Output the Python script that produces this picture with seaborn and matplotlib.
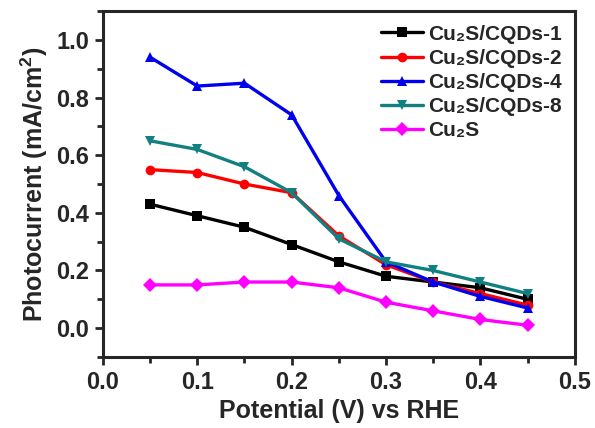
import pandas as pd
import matplotlib.pyplot as plt
import seaborn as sns
from matplotlib.ticker import MultipleLocator

# potential values (V vs RHE)
potential = [0.05, 0.10, 0.15, 0.20, 0.25, 0.30, 0.35, 0.40, 0.45]

# photocurrent (mA/cm2)
cqds_1 = [0.43, 0.39, 0.35, 0.29, 0.23, 0.18, 0.16, 0.14, 0.10]
cqds_2 = [0.55, 0.54, 0.50, 0.47, 0.32, 0.22, 0.16, 0.12, 0.08]
cqds_4 = [0.94, 0.84, 0.85, 0.74, 0.46, 0.23, 0.16, 0.11, 0.07]
cqds_8 = [0.65, 0.62, 0.56, 0.47, 0.31, 0.23, 0.20, 0.16, 0.12]
cu2s = [0.15, 0.15, 0.16, 0.16, 0.14, 0.09, 0.06, 0.03, 0.01]

labels = ["Cu₂S/CQDs-1", "Cu₂S/CQDs-2", "Cu₂S/CQDs-4", "Cu₂S/CQDs-8", "Cu₂S"]
series = [cqds_1, cqds_2, cqds_4, cqds_8, cu2s]
colors = ["black", "red", "#0000ee", "#128080", "#ff00ff"]
marks = ["s", "o", "^", "v", "D"]

rows = []
for lab, vals in zip(labels, series):
    for x, y in zip(potential, vals):
        rows.append({"Potential": x, "Current": y, "Sample": lab})
df = pd.DataFrame(rows)

sns.set_style("ticks")
plt.rcParams['font.family'] = ['Liberation Sans', 'DejaVu Sans']
plt.rcParams['font.weight'] = 'bold'
plt.rcParams['mathtext.fontset'] = 'custom'
plt.rcParams['mathtext.rm'] = 'Liberation Sans:bold'
plt.rcParams['mathtext.bf'] = 'Liberation Sans:bold'

fig = plt.figure(figsize=(5.95, 4.28), dpi=100)
ax = fig.add_axes([0.173, 0.166, 0.793, 0.808])

sns.lineplot(data=df, x="Potential", y="Current", hue="Sample", style="Sample",
             palette=dict(zip(labels, colors)), markers=dict(zip(labels, marks)),
             dashes=False, linewidth=2.4, markersize=7, markeredgewidth=0,
             ax=ax)

ax.set_xlim(0, 0.5)
ax.set_ylim(-0.10, 1.10)
ax.xaxis.set_major_locator(MultipleLocator(0.1))
ax.xaxis.set_minor_locator(MultipleLocator(0.05))
ax.yaxis.set_major_locator(MultipleLocator(0.2))
ax.yaxis.set_minor_locator(MultipleLocator(0.1))
ax.tick_params(which='major', direction='out', length=6, width=2.0, labelsize=17, pad=4)
ax.tick_params(which='minor', direction='out', length=4, width=2.0)
for s in ax.spines.values():
    s.set_linewidth(2.2)

ax.set_xlabel("Potential (V) vs RHE", fontsize=18, fontweight='bold', labelpad=4)
ax.set_ylabel("Photocurrent (mA/cm$^2$)", fontsize=18, fontweight='bold', labelpad=4)

leg = ax.legend(loc='upper right', frameon=False, fontsize=15, handlelength=2.0,
                handletextpad=0.25, labelspacing=0.25, borderaxespad=0.0,
                bbox_to_anchor=(0.99, 0.985))
for t in leg.get_texts():
    t.set_fontweight('bold')

fig.savefig("out.png", dpi=100)
